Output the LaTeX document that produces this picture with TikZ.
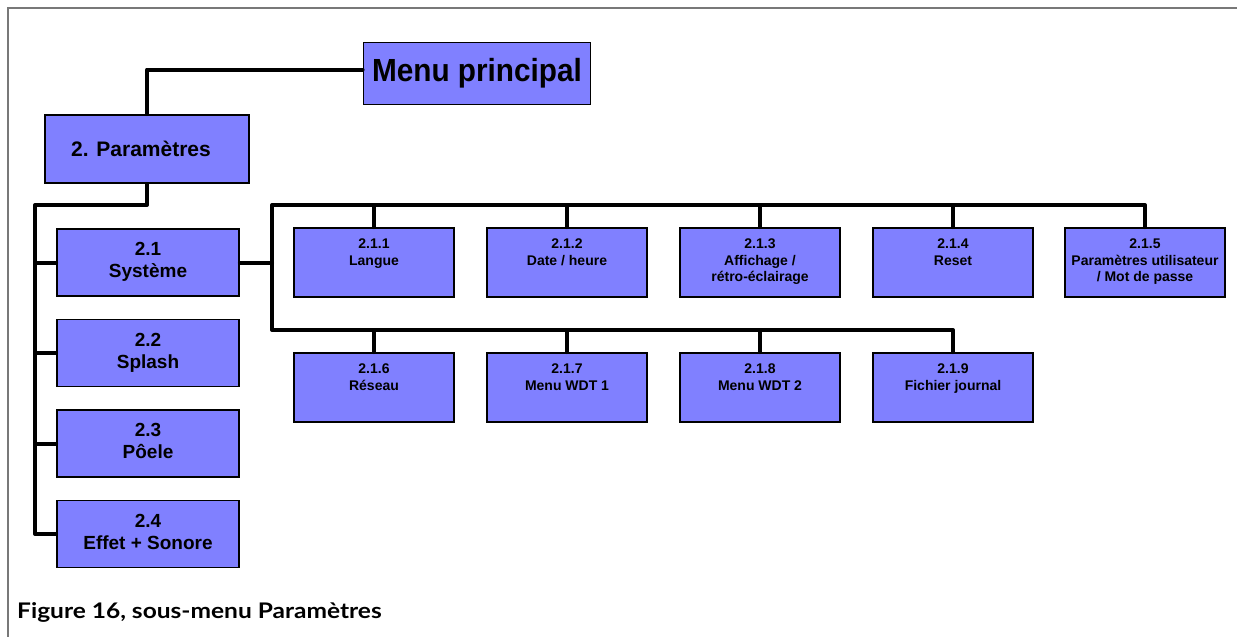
\documentclass[tikz,border=0pt]{standalone}
\usepackage{fontspec}
\usepackage{graphicx}
\setmainfont{Liberation Sans}
\newfontfamily\capfont{Lato}
\definecolor{boxblue}{RGB}{128,128,255}
\definecolor{framegray}{RGB}{120,120,120}
\begin{document}
\begin{tikzpicture}[x=1pt,y=-1pt,
  conn/.style={line width=4pt, line join=round, line cap=round},
  frame/.style={draw=framegray, line width=1.5pt},
  boxbase/.style={draw=black, line width=1.8pt, fill=boxblue, inner sep=0pt},
  topbox/.style={boxbase, minimum width=227pt, minimum height=62pt},
  parbox/.style={boxbase, minimum width=204pt, minimum height=68pt},
  midbox/.style={boxbase, minimum width=182pt, minimum height=67pt},
  subbox/.style={boxbase, minimum width=160pt, minimum height=69pt},
  midtxt/.style={anchor=north, align=center, inner sep=0pt,
    font=\bfseries\fontsize{19}{22}\selectfont},
  subtxt/.style={anchor=north, align=center, inner sep=0pt,
    font=\bfseries\fontsize{14}{16.7}\selectfont}]
\useasboundingbox (0,0) rectangle (1237,637);

% page frame (top and left rules)
\draw[frame] (1237,8) -- (8,8) -- (8,637);

% main menu and its child
\node[topbox] (menu) at (477,73.5) {\fontsize{32}{36}\selectfont\bfseries\scalebox{0.93}[1]{Menu principal}};
\node[parbox] (par) at (147,149) {};
\node[inner sep=0pt, font=\bfseries\fontsize{21}{24}\selectfont] (partxt) at ([xshift=-6pt]par.center) {2. Paramètres};

% second level
\node[midbox] (s21) at (148,262.5) {};
\node[midbox] (s22) at (148,353) {};
\node[midbox] (s23) at (148,443.5) {};
\node[midbox] (s24) at (148,534) {};
\node[midtxt] (t21) at ([yshift=-14pt]s21.north) {2.1\\Système};
\node[midtxt] (t22) at ([yshift=-14pt]s22.north) {2.2\\Splash};
\node[midtxt] (t23) at ([yshift=-14pt]s23.north) {2.3\\Pôele};
\node[midtxt] (t24) at ([yshift=-14pt]s24.north) {2.4\\Effet + Sonore};

% third level, first row
\node[subbox] (b211) at (374,262.5) {};
\node[subbox] (b212) at (567,262.5) {};
\node[subbox] (b213) at (760,262.5) {};
\node[subbox] (b214) at (953,262.5) {};
\node[subbox] (b215) at (1145,262.5) {};
% third level, second row
\node[subbox] (b216) at (374,387.5) {};
\node[subbox] (b217) at (567,387.5) {};
\node[subbox] (b218) at (760,387.5) {};
\node[subbox] (b219) at (953,387.5) {};

\node[subtxt] (t211) at ([yshift=-11.5pt]b211.north) {2.1.1\\Langue};
\node[subtxt] (t212) at ([yshift=-11.5pt]b212.north) {2.1.2\\Date / heure};
\node[subtxt] (t213) at ([yshift=-11.5pt]b213.north) {2.1.3\\Affichage /\\rétro-éclairage};
\node[subtxt] (t214) at ([yshift=-11.5pt]b214.north) {2.1.4\\Reset};
\node[subtxt] (t215) at ([yshift=-11.5pt]b215.north) {2.1.5\\Paramètres utilisateur\\/ Mot de passe};
\node[subtxt] (t216) at ([yshift=-11.5pt]b216.north) {2.1.6\\Réseau};
\node[subtxt] (t217) at ([yshift=-11.5pt]b217.north) {2.1.7\\Menu WDT 1};
\node[subtxt] (t218) at ([yshift=-11.5pt]b218.north) {2.1.8\\Menu WDT 2};
\node[subtxt] (t219) at ([yshift=-11.5pt]b219.north) {2.1.9\\Fichier journal};

% bus junctions
\coordinate (lbus) at (35,205);
\coordinate (rtop) at (272,205);
\coordinate (rbot) at (272,330);

% connectors
\draw[conn] ([yshift=4pt]menu.west) -| (par.north);
\draw[conn] (par.south) |- (lbus) |- (s24.west);
\draw[conn] (s21.west -| lbus) -- (s21.west);
\draw[conn] (s22.west -| lbus) -- (s22.west);
\draw[conn] (s23.west -| lbus) -- (s23.west);
\draw[conn] (s21.east) -- (s21.east -| rtop);
\draw[conn] (b215.north) |- (rtop) -- (rbot) -| (b219.north);
\draw[conn] (b211.north) -- (b211.north |- rtop);
\draw[conn] (b212.north) -- (b212.north |- rtop);
\draw[conn] (b213.north) -- (b213.north |- rtop);
\draw[conn] (b214.north) -- (b214.north |- rtop);
\draw[conn] (b216.north) -- (b216.north |- rbot);
\draw[conn] (b217.north) -- (b217.north |- rbot);
\draw[conn] (b218.north) -- (b218.north |- rbot);

% caption
\node[anchor=base west, inner sep=0pt, font=\capfont\bfseries\fontsize{21.5}{24}\selectfont] (caption) at (17,618) {\scalebox{1.14}[1]{Figure 16, sous-menu Paramètres}};
\end{tikzpicture}
\end{document}
